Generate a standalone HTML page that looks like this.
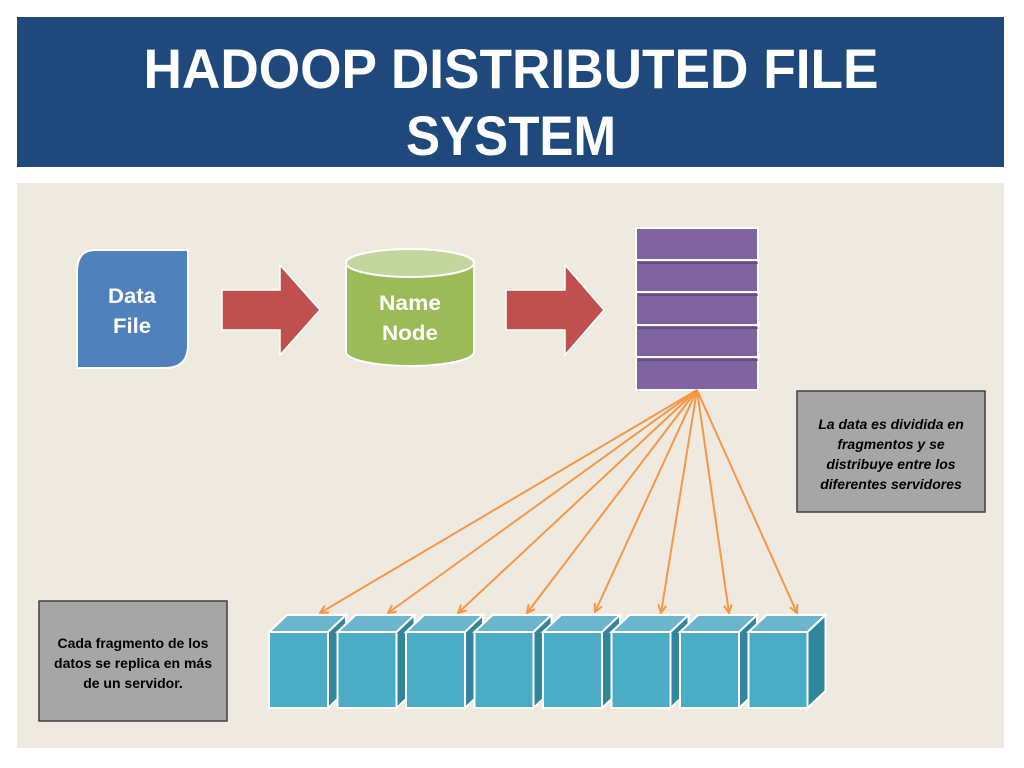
<!DOCTYPE html>
<html><head><meta charset="utf-8"><style>
html,body{margin:0;padding:0;background:#fff;width:1024px;height:768px;overflow:hidden}
svg{display:block}
</style></head><body>
<svg width="1024" height="768" viewBox="0 0 1024 768" xmlns="http://www.w3.org/2000/svg" font-family="'Liberation Sans',sans-serif">
<defs>
<marker id="ah" markerWidth="10" markerHeight="10" refX="9" refY="5" orient="auto" markerUnits="userSpaceOnUse">
<path d="M1,1 L9,5 L1,9" fill="none" stroke="#f79646" stroke-width="2"/>
</marker>
</defs>
<rect x="17" y="17" width="987" height="150" fill="#1f497d"/>
<text x="511" y="88" text-anchor="middle" fill="#fff" font-size="56" font-weight="bold" textLength="735" lengthAdjust="spacingAndGlyphs">HADOOP DISTRIBUTED FILE</text>
<text x="511" y="155" text-anchor="middle" fill="#fff" font-size="56" font-weight="bold" textLength="210" lengthAdjust="spacingAndGlyphs">SYSTEM</text>
<rect x="17" y="183" width="987" height="565" fill="#eeeae0"/>

<!-- Data file -->
<path d="M95,250 H188 V345 Q188,368 165,368 H77 V272 Q77,250 95,250 Z" fill="#4f81bd" stroke="#fff" stroke-width="2"/>
<text x="132" y="303" text-anchor="middle" fill="#fff" font-size="21" font-weight="bold" textLength="48" lengthAdjust="spacingAndGlyphs">Data</text>
<text x="132" y="333" text-anchor="middle" fill="#fff" font-size="21" font-weight="bold" textLength="38" lengthAdjust="spacingAndGlyphs">File</text>

<!-- arrows -->
<path d="M222,290 H280 V265 L320,310 L280,355 V330 H222 Z" fill="#c0504d" stroke="#fff" stroke-width="1.5"/>
<path d="M506,290 H565 V265 L604,310 L565,355 V330 H506 Z" fill="#c0504d" stroke="#fff" stroke-width="1.5"/>

<!-- cylinder -->
<path d="M346,263 V352 A64,14 0 0 0 474,352 V263" fill="#9bbb59" stroke="#fff" stroke-width="2"/>
<ellipse cx="410" cy="263" rx="64" ry="14" fill="#c3d69b" stroke="#fff" stroke-width="2"/>
<text x="410" y="310" text-anchor="middle" fill="#fff" font-size="21" font-weight="bold" textLength="62" lengthAdjust="spacingAndGlyphs">Name</text>
<text x="410" y="340" text-anchor="middle" fill="#fff" font-size="21" font-weight="bold" textLength="56" lengthAdjust="spacingAndGlyphs">Node</text>

<!-- stack -->
<rect x="636" y="228" width="122" height="162" fill="#8064a2" stroke="#fff" stroke-width="2"/>
<g stroke="#fff" stroke-width="2"><line x1="636" y1="260" x2="760" y2="260"/><line x1="636" y1="292" x2="760" y2="292"/><line x1="636" y1="325" x2="760" y2="325"/><line x1="636" y1="357" x2="760" y2="357"/></g>
<g stroke="#4a3a60" stroke-width="1.5" opacity="0.7"><line x1="638" y1="263" x2="758" y2="263"/><line x1="638" y1="295" x2="758" y2="295"/><line x1="638" y1="328" x2="758" y2="328"/><line x1="638" y1="360" x2="758" y2="360"/></g>

<!-- connectors -->
<g stroke="#f79646" stroke-width="2" fill="none" marker-end="url(#ah)">
<line x1="697" y1="390" x2="320" y2="613"/>
<line x1="697" y1="390" x2="388" y2="613"/>
<line x1="697" y1="390" x2="458" y2="613"/>
<line x1="697" y1="390" x2="527" y2="613"/>
<line x1="697" y1="390" x2="595" y2="612"/>
<line x1="697" y1="390" x2="661" y2="613"/>
<line x1="697" y1="390" x2="729" y2="613"/>
<line x1="697" y1="390" x2="797" y2="613"/>
</g>

<!-- cubes -->
<g stroke="#fff" stroke-width="2">
<g id="c"><path d="M269,632 L287,615 H346 L328,632 Z" fill="#6bb6cc"/><path d="M328,632 L346,615 V691 L328,708 Z" fill="#31859c"/><rect x="269" y="632" width="59" height="76" fill="#4bacc6"/></g>
<use href="#c" x="68.5"/><use href="#c" x="137"/><use href="#c" x="205.5"/><use href="#c" x="274"/><use href="#c" x="342.5"/><use href="#c" x="411"/><use href="#c" x="479.5"/>
</g>

<!-- text boxes -->
<rect x="797" y="391" width="188" height="121" fill="#a6a6a6" stroke="#404040" stroke-width="1.5"/>
<g font-size="14" font-style="italic" font-weight="bold" text-anchor="middle" fill="#000">
<text x="891" y="429">La data es dividida en</text>
<text x="891" y="449">fragmentos y se</text>
<text x="891" y="469">distribuye entre los</text>
<text x="891" y="489">diferentes servidores</text>
</g>
<rect x="39" y="601" width="188" height="120" fill="#a6a6a6" stroke="#404040" stroke-width="1.5"/>
<g font-size="14" font-weight="bold" text-anchor="middle" fill="#000">
<text x="133" y="648">Cada fragmento de los</text>
<text x="133" y="668">datos se replica en más</text>
<text x="133" y="688">de un servidor.</text>
</g>
</svg>
</body></html>
